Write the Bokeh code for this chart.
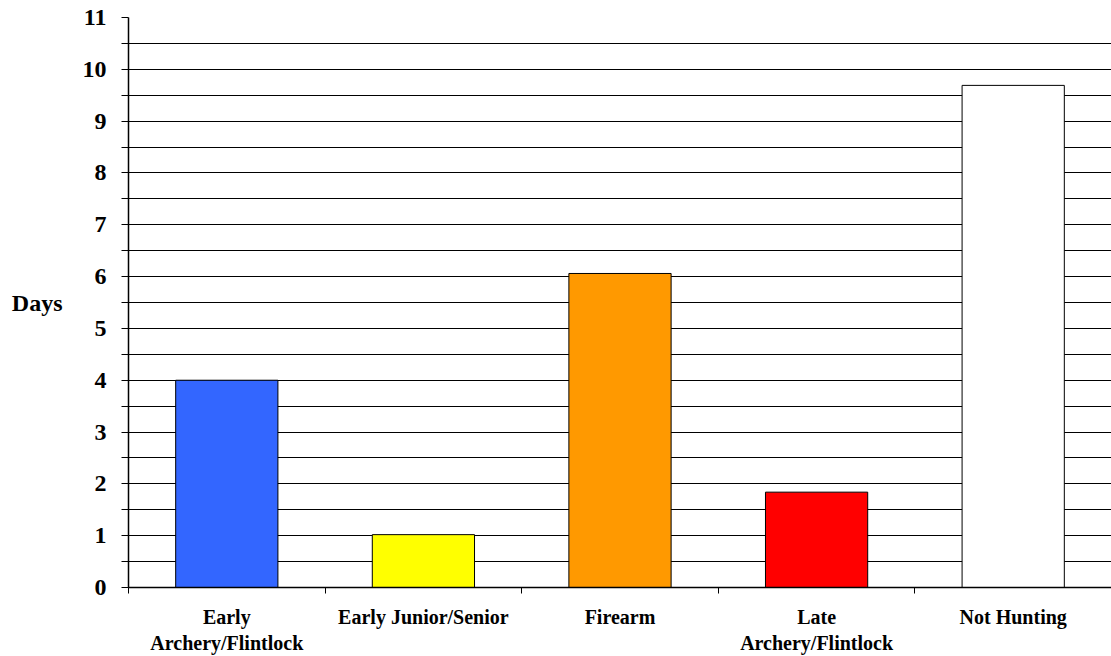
from bokeh.plotting import figure
from bokeh.models import Range1d, FixedTicker, LinearAxis, Grid
from bokeh.embed import file_html
from bokeh.resources import INLINE

categories = ["Early\nArchery/Flintlock", "Early Junior/Senior", "Firearm",
              "Late\nArchery/Flintlock", "Not Hunting"]
days = [4.0, 1.02, 6.06, 1.84, 9.69]
colors = ["#3366FF", "#FFFF00", "#FF9900", "#FF0000", "#FFFFFF"]
y_ticks = list(range(0, 12))

n = len(categories)
centers = [i + 0.5 for i in range(n)]

FONT = "Liberation Serif"

p = figure(width=1111, height=656, output_backend="svg", toolbar_location=None,
           x_range=Range1d(0, n), y_range=Range1d(0, 11),
           x_axis_type=None, y_axis_type=None,
           min_border_left=128, min_border_right=0, min_border_top=17, min_border_bottom=68)
p.outline_line_color = None
p.background_fill_color = "white"

p.vbar(x=centers, top=days, width=0.52, fill_color=colors, line_color="black", line_width=1)

# Y axis
yax = LinearAxis(ticker=FixedTicker(ticks=y_ticks, minor_ticks=[t + 0.5 for t in y_ticks[:-1]]))
yax.axis_line_color = "black"
yax.axis_line_width = 1.5
yax.major_tick_out = 7
yax.major_tick_in = 0
yax.minor_tick_out = 7
yax.minor_tick_in = 0
yax.major_tick_line_color = "black"
yax.minor_tick_line_color = "black"
yax.major_label_text_font = FONT
yax.major_label_text_font_style = "bold"
yax.major_label_text_font_size = "24px"
yax.major_label_text_color = "black"
yax.major_label_standoff = 15
yax.axis_label = "Days"
yax.axis_label_orientation = "horizontal"
yax.axis_label_text_font = FONT
yax.axis_label_text_font_style = "bold"
yax.axis_label_text_font_size = "24px"
yax.axis_label_text_color = "black"
yax.axis_label_standoff = 17
p.add_layout(yax, "left")

# X axis
xax = LinearAxis(ticker=FixedTicker(ticks=centers, minor_ticks=list(range(0, n + 1))))
xax.major_label_overrides = {c: lab for c, lab in zip(centers, categories)}
xax.axis_line_color = "black"
xax.axis_line_width = 1.5
xax.major_tick_out = 0
xax.major_tick_in = 0
xax.minor_tick_out = 6
xax.minor_tick_in = 0
xax.minor_tick_line_color = "black"
xax.major_label_text_font = FONT
xax.major_label_text_font_style = "bold"
xax.major_label_text_font_size = "20px"
xax.major_label_text_color = "black"
xax.major_label_text_line_height = 1.2
xax.major_label_standoff = 12
p.add_layout(xax, "below")

grid = Grid(dimension=1, ticker=yax.ticker)
grid.grid_line_color = "black"
grid.grid_line_width = 1
grid.minor_grid_line_color = "black"
grid.minor_grid_line_width = 1
p.add_layout(grid)

open("out.html", "w").write(file_html(p, INLINE))
